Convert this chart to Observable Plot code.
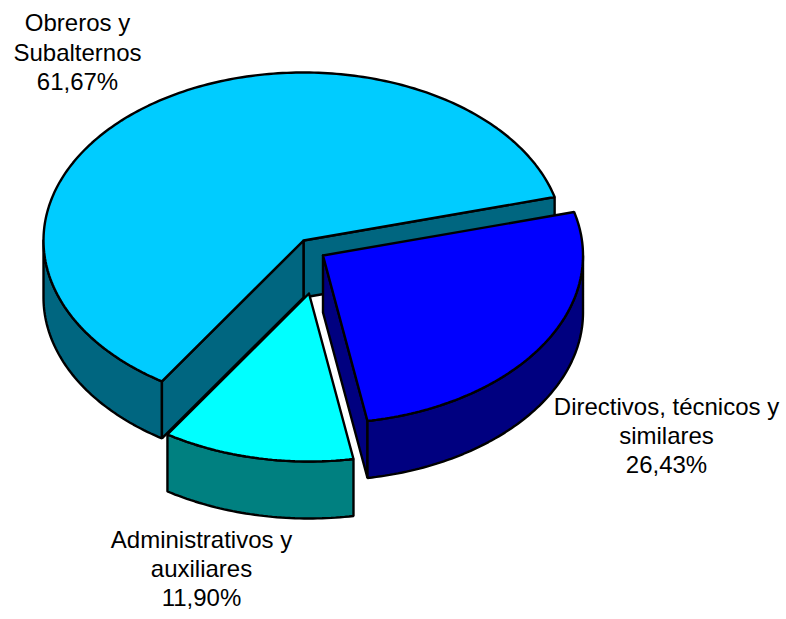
<!DOCTYPE html>
<html>
<head>
<meta charset="utf-8">
<style>html,body{margin:0;padding:0;background:#fff}svg{display:block}</style>
<script src="https://cdn.jsdelivr.net/npm/d3@7"></script>
<script src="https://cdn.jsdelivr.net/npm/@observablehq/plot@0.6"></script>
</head>
<body>
<script>
// Data
const categories = ["Obreros y\nSubalternos", "Administrativos y\nauxiliares", "Directivos, técnicos y\nsimilares"];
const shares = [61.67, 11.90, 26.43];
const shareLabels = ["61,67%", "11,90%", "26,43%"];
const topColors = ["#00CCFF", "#00FFFF", "#0000FF"];
const sideColors = ["#006680", "#008080", "#000080"];

// Layout
const W = 786, H = 619;
const cx = 303, cy = 240, rx = 260, ry = 168, depth = 57, startDeg = 15;
const offsets = [[0, 0], [5.5, 53], [19.5, 15]];
const labelPos = [[77, 10], [201, 526.5], [666, 393.5]];

const rad = d => d * Math.PI / 180;
let acc = startDeg;
const slices = shares.map((s, i) => {
  const a0 = acc, a1 = acc + s * 3.6; acc = a1;
  return {i, a0, a1, ox: cx + offsets[i][0], oy: cy + offsets[i][1]};
});
const pt = (s, a, d = 0) => [s.ox + rx * Math.cos(rad(a)), s.oy - ry * Math.sin(rad(a)) + d];
const arc = (s, a0, a1, d = 0) => {
  const n = Math.max(2, Math.ceil(Math.abs(a1 - a0)));
  return d3.range(n + 1).map(k => pt(s, a0 + (a1 - a0) * k / n, d));
};
const tip = (s, d = 0) => [s.ox, s.oy + d];

const polys = [];
const add = (pts, fill) => { const id = polys.length; pts.forEach(([x, y]) => polys.push({x, y, id, fill})); polys.push({x: pts[0][0], y: pts[0][1], id, fill}); };
const [main, admin, dir] = slices;

// Main slice: outer wall, cut faces, top
add([...arc(main, 180, main.a1), ...arc(main, main.a1, 180, depth)], sideColors[0]);
add([tip(main), pt(main, main.a0), pt(main, main.a0, depth), tip(main, depth)], sideColors[0]);
add([tip(main), pt(main, main.a1), pt(main, main.a1, depth), tip(main, depth)], sideColors[0]);
add([tip(main), ...arc(main, main.a0, main.a1)], topColors[0]);
// Administrative slice: wall, top
add([...arc(admin, admin.a0, admin.a1), ...arc(admin, admin.a1, admin.a0, depth)], sideColors[1]);
add([tip(admin), ...arc(admin, admin.a0, admin.a1)], topColors[1]);
// Directive slice: cut face, wall, top
add([tip(dir), pt(dir, dir.a0), pt(dir, dir.a0, depth), tip(dir, depth)], sideColors[2]);
add([...arc(dir, dir.a0, 360), ...arc(dir, 360, dir.a0, depth)], sideColors[2]);
add([tip(dir), ...arc(dir, dir.a0, dir.a1)], topColors[2]);

const labels = categories.map((c, i) => ({x: labelPos[i][0], y: labelPos[i][1], t: c + "\n" + shareLabels[i]}));

const chart = Plot.plot({
  width: W, height: H, margin: 0,
  x: {domain: [0, W], range: [0, W], axis: null},
  y: {domain: [0, H], range: [0, H], axis: null},
  style: {background: "#fff"},
  marks: [
    Plot.line(polys, {x: "x", y: "y", z: "id", fill: "fill", stroke: "#000", strokeWidth: 2.4, strokeLinejoin: "miter", curve: "linear"}),
    Plot.text(labels, {x: "x", y: "y", text: "t", textAnchor: "middle", lineAnchor: "top", lineHeight: 1.22, fontSize: 24, fontFamily: "Liberation Sans, Arial, sans-serif", fill: "#000"})
  ]
});
document.body.appendChild(chart);
</script>
</body>
</html>
